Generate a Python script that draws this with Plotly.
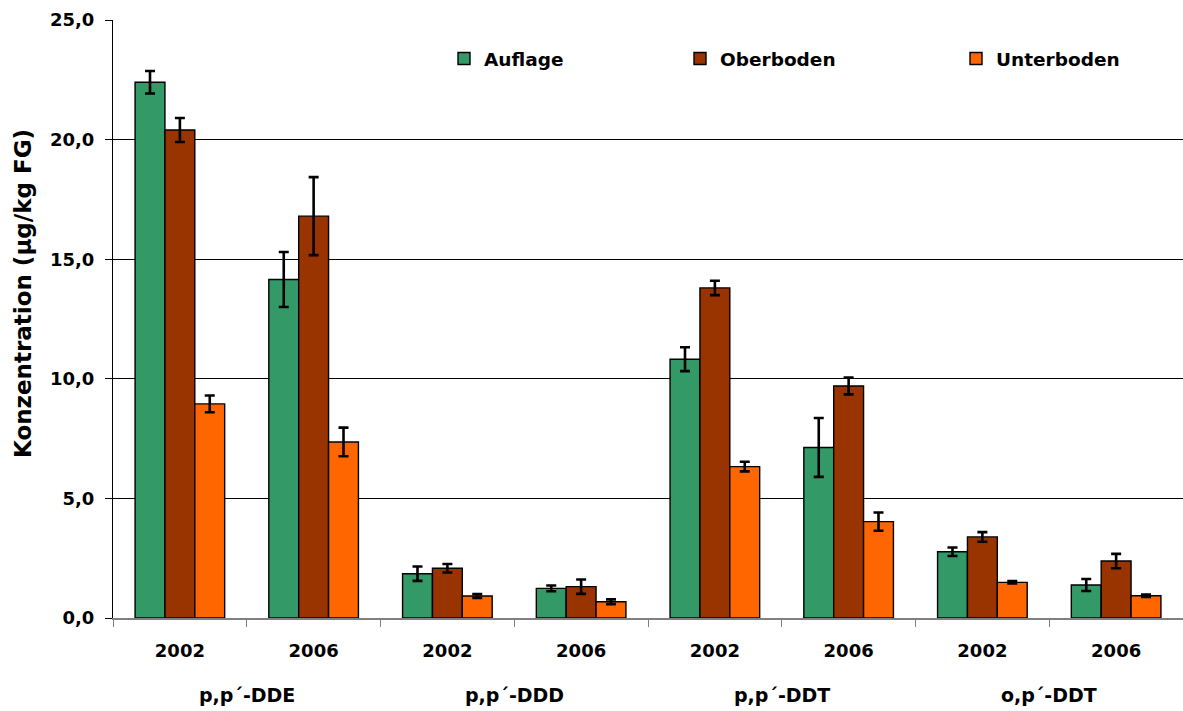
import plotly.graph_objects as go

categories = ["DDE 2002", "DDE 2006", "DDD 2002", "DDD 2006",
              "DDT 2002", "DDT 2006", "opDDT 2002", "opDDT 2006"]
year_labels = ["2002", "2006", "2002", "2006", "2002", "2006", "2002", "2006"]
group_labels = ["p,p´-DDE", "p,p´-DDD", "p,p´-DDT", "o,p´-DDT"]

auflage = [22.4, 14.15, 1.85, 1.24, 10.82, 7.13, 2.77, 1.38]
auflage_err = [0.47, 1.15, 0.3, 0.12, 0.5, 1.23, 0.18, 0.25]
oberboden = [20.4, 16.8, 2.08, 1.31, 13.8, 9.7, 3.39, 2.38]
oberboden_err = [0.5, 1.63, 0.18, 0.3, 0.3, 0.35, 0.2, 0.3]
unterboden = [8.95, 7.36, 0.92, 0.68, 6.33, 4.03, 1.49, 0.93]
unterboden_err = [0.35, 0.6, 0.08, 0.1, 0.2, 0.38, 0.05, 0.05]

series = [
    ("Auflage", auflage, auflage_err, "#339966", "legend"),
    ("Oberboden", oberboden, oberboden_err, "#993300", "legend2"),
    ("Unterboden", unterboden, unterboden_err, "#FF6600", "legend3"),
]

FONT = "DejaVu Sans"
W, H = 1183, 711
PLOT_LEFT, PLOT_RIGHT, PLOT_TOP, PLOT_BOTTOM = 113, 1183, 20, 618
PW = PLOT_RIGHT - PLOT_LEFT
PH = PLOT_BOTTOM - PLOT_TOP

fig = go.Figure()
for name, vals, errs, color, leg in series:
    fig.add_trace(go.Bar(
        x=categories, y=vals, name=name,
        marker=dict(color=color, line=dict(color="black", width=1.4)),
        error_y=dict(type="data", array=errs, visible=True,
                     color="black", thickness=2.6, width=5),
        legend=leg,
    ))

for i, g in enumerate(group_labels):
    fig.add_annotation(x=2 * i + 0.5, xref="x",
                       y=-(695 - PLOT_BOTTOM) / PH, yref="paper",
                       text=g, showarrow=False,
                       font=dict(size=19, color="black", family=FONT, weight="bold"),
                       xanchor="center", yanchor="middle")

# y-axis title (placed like the reference, slightly above the axis centre)
fig.add_annotation(x=(23 - PLOT_LEFT) / PW, xref="paper",
                   y=(PLOT_BOTTOM - 294) / PH, yref="paper",
                   text="Konzentration (µg/kg FG)", textangle=-90,
                   showarrow=False, xanchor="center", yanchor="middle",
                   font=dict(size=23, color="black", family=FONT, weight="bold"))

leg_common = dict(orientation="h", yanchor="middle", xanchor="left",
                  bgcolor="rgba(0,0,0,0)", borderwidth=0,
                  font=dict(size=18.5, color="black", family=FONT, weight="bold"),
                  itemwidth=30)
leg_y = (PLOT_BOTTOM - 59) / PH

fig.update_layout(
    width=W, height=H,
    margin=dict(l=PLOT_LEFT, r=W - PLOT_RIGHT, t=PLOT_TOP,
                b=H - PLOT_BOTTOM, autoexpand=False),
    paper_bgcolor="white", plot_bgcolor="white",
    barmode="group", bargap=0.33, bargroupgap=0,
    separators=",.",
    font=dict(family=FONT, color="black"),
    showlegend=True,
    legend=dict(x=(444 - PLOT_LEFT) / PW, y=leg_y, **leg_common),
    legend2=dict(x=(680 - PLOT_LEFT) / PW, y=leg_y, **leg_common),
    legend3=dict(x=(956 - PLOT_LEFT) / PW, y=leg_y, **leg_common),
    xaxis=dict(
        type="category", tickvals=categories, ticktext=year_labels,
        tickson="boundaries", ticks="outside", ticklen=7, tickcolor="#808080",
        showline=True, linecolor="#808080", linewidth=1.5,
        tickfont=dict(size=18, color="black", family=FONT, weight="bold"),
        ticklabelstandoff=16,
        showgrid=False, range=[-0.5, 7.5], automargin=False,
    ),
    yaxis=dict(
        range=[0, 25], dtick=5, tickformat=".1f",
        ticks="outside", ticklen=7, tickcolor="black",
        showline=True, linecolor="black", linewidth=1.2,
        showgrid=True, gridcolor="black", gridwidth=1,
        zeroline=False, automargin=False,
        tickfont=dict(size=18, color="black", family=FONT, weight="bold"),
        ticklabelstandoff=7,
    ),
)

# remove the browser's default 8px page margin so the figure fills the window
fig.write_html("out.html",
               config={"displayModeBar": False},
               post_script="document.body.style.margin='0px';document.body.style.overflow='hidden';")
